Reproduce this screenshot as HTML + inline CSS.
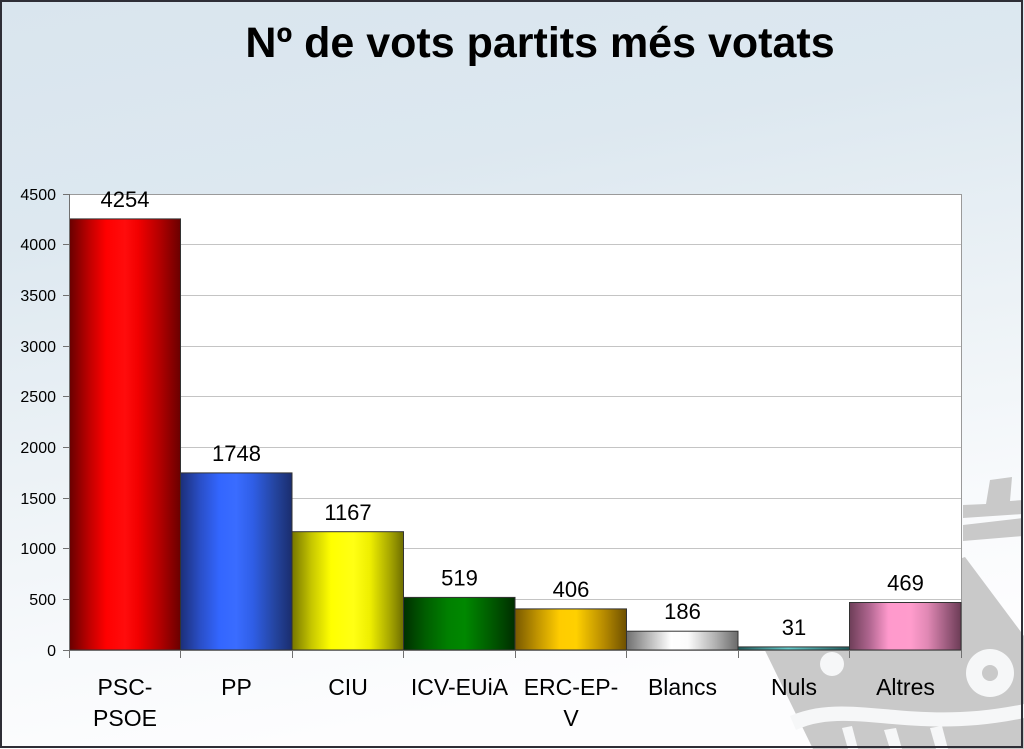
<!DOCTYPE html>
<html>
<head>
<meta charset="utf-8">
<style>
html,body{margin:0;padding:0;background:#fff;}
svg{display:block;}
text{font-family:"Liberation Sans",Arial,sans-serif;fill:#000;}
</style>
</head>
<body>
<svg width="1024" height="749" viewBox="0 0 1024 749" xmlns="http://www.w3.org/2000/svg">
<defs>
  <linearGradient id="bg" x1="0" y1="0" x2="0.25" y2="1">
    <stop offset="0" stop-color="#d9e5ee"/>
    <stop offset="0.3" stop-color="#dde8f0"/>
    <stop offset="0.6" stop-color="#ecf2f6"/>
    <stop offset="0.85" stop-color="#f8fafc"/>
    <stop offset="1" stop-color="#fdfdfe"/>
  </linearGradient>
  <linearGradient id="gRed" x1="0" y1="0" x2="1" y2="0">
    <stop offset="0" stop-color="#680000"/>
    <stop offset="0.18" stop-color="#c00000"/>
    <stop offset="0.33" stop-color="#ff0000"/>
    <stop offset="0.5" stop-color="#ff0c0c"/>
    <stop offset="0.62" stop-color="#f20000"/>
    <stop offset="0.82" stop-color="#b00000"/>
    <stop offset="1" stop-color="#6a0000"/>
  </linearGradient>
  <linearGradient id="gBlue" x1="0" y1="0" x2="1" y2="0">
    <stop offset="0" stop-color="#1c2f78"/>
    <stop offset="0.18" stop-color="#2a4fc8"/>
    <stop offset="0.35" stop-color="#3366ff"/>
    <stop offset="0.5" stop-color="#3a6cff"/>
    <stop offset="0.65" stop-color="#2f5ee6"/>
    <stop offset="0.85" stop-color="#24449e"/>
    <stop offset="1" stop-color="#1a2d6e"/>
  </linearGradient>
  <linearGradient id="gYel" x1="0" y1="0" x2="1" y2="0">
    <stop offset="0" stop-color="#767600"/>
    <stop offset="0.18" stop-color="#c8c800"/>
    <stop offset="0.35" stop-color="#ffff00"/>
    <stop offset="0.55" stop-color="#ffff14"/>
    <stop offset="0.7" stop-color="#eeee00"/>
    <stop offset="0.88" stop-color="#a6a600"/>
    <stop offset="1" stop-color="#6e6e00"/>
  </linearGradient>
  <linearGradient id="gGreen" x1="0" y1="0" x2="1" y2="0">
    <stop offset="0" stop-color="#003000"/>
    <stop offset="0.2" stop-color="#005e00"/>
    <stop offset="0.4" stop-color="#008000"/>
    <stop offset="0.55" stop-color="#008800"/>
    <stop offset="0.8" stop-color="#005800"/>
    <stop offset="1" stop-color="#002e00"/>
  </linearGradient>
  <linearGradient id="gGold" x1="0" y1="0" x2="1" y2="0">
    <stop offset="0" stop-color="#785800"/>
    <stop offset="0.2" stop-color="#c09400"/>
    <stop offset="0.4" stop-color="#ffcc00"/>
    <stop offset="0.55" stop-color="#ffd000"/>
    <stop offset="0.8" stop-color="#b68a00"/>
    <stop offset="1" stop-color="#6e5000"/>
  </linearGradient>
  <linearGradient id="gGray" x1="0" y1="0" x2="1" y2="0">
    <stop offset="0" stop-color="#707070"/>
    <stop offset="0.2" stop-color="#b8b8b8"/>
    <stop offset="0.4" stop-color="#ffffff"/>
    <stop offset="0.55" stop-color="#fcfcfc"/>
    <stop offset="0.8" stop-color="#b0b0b0"/>
    <stop offset="1" stop-color="#6a6a6a"/>
  </linearGradient>
  <linearGradient id="gTeal" x1="0" y1="0" x2="1" y2="0">
    <stop offset="0" stop-color="#1f5a5a"/>
    <stop offset="0.45" stop-color="#66cccc"/>
    <stop offset="1" stop-color="#1f5a5a"/>
  </linearGradient>
  <linearGradient id="gPink" x1="0" y1="0" x2="1" y2="0">
    <stop offset="0" stop-color="#6e3e58"/>
    <stop offset="0.18" stop-color="#b06690"/>
    <stop offset="0.35" stop-color="#ff99cc"/>
    <stop offset="0.55" stop-color="#ff9ccc"/>
    <stop offset="0.7" stop-color="#e088b4"/>
    <stop offset="0.88" stop-color="#9a5a7c"/>
    <stop offset="1" stop-color="#6c3c56"/>
  </linearGradient>
</defs>

<!-- background -->
<rect x="0" y="0" width="1024" height="749" fill="url(#bg)"/>

<!-- watermark -->
<g fill="#c9c9c9">
  <polygon points="755,630 965,557 1024,636 1024,749 813,749"/>
  <polygon points="990,480 1012,477 1010,501 1023,500 1023,514 963,518 963,505 986,504"/>
  <polygon points="963,525 1023,518 1023,536 963,541"/>
</g>
<g fill="#f6f7f8">
  <circle cx="990" cy="673" r="24"/>
  <circle cx="832" cy="664" r="12"/>
  <path d="M790,716 C850,690 910,728 1024,704 L1024,718 C910,742 850,705 796,730 Z"/>
  <polygon points="842,728 852,726 858,749 848,749"/>
  <polygon points="884,730 896,728 902,749 890,749"/>
  <polygon points="930,728 942,726 948,749 936,749"/>
</g>
<circle cx="990" cy="673" r="8" fill="#c9c9c9"/>

<!-- plot area -->
<rect x="69" y="194" width="892" height="456" fill="#ffffff"/>
<g stroke="#c4c4c4" stroke-width="1">
  <line x1="69" y1="599.5" x2="961" y2="599.5"/>
  <line x1="69" y1="548.5" x2="961" y2="548.5"/>
  <line x1="69" y1="498.5" x2="961" y2="498.5"/>
  <line x1="69" y1="447.5" x2="961" y2="447.5"/>
  <line x1="69" y1="396.5" x2="961" y2="396.5"/>
  <line x1="69" y1="346.5" x2="961" y2="346.5"/>
  <line x1="69" y1="295.5" x2="961" y2="295.5"/>
  <line x1="69" y1="244.5" x2="961" y2="244.5"/>
</g>
<g stroke="#9a9a9a" stroke-width="1" fill="none">
  <line x1="69" y1="194.5" x2="961.5" y2="194.5"/>
  <line x1="961.5" y1="194" x2="961.5" y2="650"/>
</g>

<!-- bars -->
<g stroke="#333" stroke-width="1">
  <rect x="69.5" y="218.9" width="111" height="431.1" fill="url(#gRed)"/>
  <rect x="180.5" y="472.9" width="111.5" height="177.1" fill="url(#gBlue)"/>
  <rect x="292" y="531.7" width="111.5" height="118.3" fill="url(#gYel)"/>
  <rect x="403.5" y="597.4" width="111.5" height="52.6" fill="url(#gGreen)"/>
  <rect x="515" y="608.9" width="111.5" height="41.1" fill="url(#gGold)"/>
  <rect x="626.5" y="631.2" width="111.5" height="18.8" fill="url(#gGray)"/>
  <rect x="738" y="646.9" width="111.5" height="3.1" fill="url(#gTeal)"/>
  <rect x="849.5" y="602.5" width="111.5" height="47.5" fill="url(#gPink)"/>
</g>

<!-- axes -->
<g stroke="#707070" stroke-width="1">
  <line x1="69.5" y1="194" x2="69.5" y2="650"/>
  <line x1="63" y1="650.5" x2="962" y2="650.5"/>
  <line x1="63" y1="599.5" x2="69" y2="599.5"/>
  <line x1="63" y1="548.5" x2="69" y2="548.5"/>
  <line x1="63" y1="498.5" x2="69" y2="498.5"/>
  <line x1="63" y1="447.5" x2="69" y2="447.5"/>
  <line x1="63" y1="396.5" x2="69" y2="396.5"/>
  <line x1="63" y1="346.5" x2="69" y2="346.5"/>
  <line x1="63" y1="295.5" x2="69" y2="295.5"/>
  <line x1="63" y1="244.5" x2="69" y2="244.5"/>
  <line x1="63" y1="194.5" x2="69" y2="194.5"/>
  <line x1="69.5" y1="650" x2="69.5" y2="658"/>
  <line x1="180.5" y1="650" x2="180.5" y2="658"/>
  <line x1="292.5" y1="650" x2="292.5" y2="658"/>
  <line x1="403.5" y1="650" x2="403.5" y2="658"/>
  <line x1="515.5" y1="650" x2="515.5" y2="658"/>
  <line x1="626.5" y1="650" x2="626.5" y2="658"/>
  <line x1="738.5" y1="650" x2="738.5" y2="658"/>
  <line x1="849.5" y1="650" x2="849.5" y2="658"/>
  <line x1="961.5" y1="650" x2="961.5" y2="658"/>
</g>

<!-- y labels -->
<g font-size="16" text-anchor="end">
  <text x="56" y="656">0</text>
  <text x="56" y="605">500</text>
  <text x="56" y="554">1000</text>
  <text x="56" y="504">1500</text>
  <text x="56" y="453">2000</text>
  <text x="56" y="402">2500</text>
  <text x="56" y="352">3000</text>
  <text x="56" y="301">3500</text>
  <text x="56" y="250">4000</text>
  <text x="56" y="200">4500</text>
</g>

<!-- data labels -->
<g font-size="22" text-anchor="middle">
  <text x="125" y="207">4254</text>
  <text x="236.5" y="461">1748</text>
  <text x="348" y="520">1167</text>
  <text x="459.5" y="585.5">519</text>
  <text x="571" y="597">406</text>
  <text x="682.5" y="619">186</text>
  <text x="794" y="635">31</text>
  <text x="905.5" y="590.5">469</text>
</g>

<!-- category labels -->
<g font-size="23" text-anchor="middle">
  <text x="125" y="695">PSC-</text>
  <text x="125" y="726">PSOE</text>
  <text x="236.5" y="695">PP</text>
  <text x="348" y="695">CIU</text>
  <text x="459.5" y="695">ICV-EUiA</text>
  <text x="571" y="695">ERC-EP-</text>
  <text x="571" y="726">V</text>
  <text x="682.5" y="695">Blancs</text>
  <text x="794" y="695">Nuls</text>
  <text x="905.5" y="695">Altres</text>
</g>

<!-- title -->
<text x="540" y="57" font-size="43" font-weight="bold" text-anchor="middle">Nº de vots partits més votats</text>

<!-- frame -->
<rect x="1" y="1" width="1021" height="746" fill="none" stroke="#2e2e36" stroke-width="2"/>
</svg>
</body>
</html>
